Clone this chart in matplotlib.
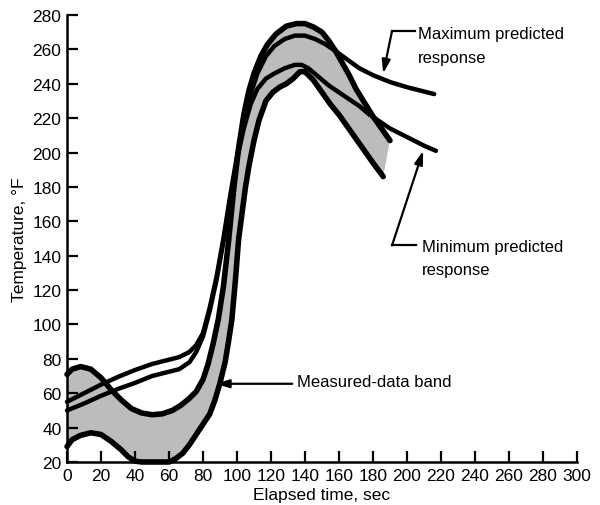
import matplotlib
matplotlib.use("Agg")
import matplotlib.pyplot as plt

plt.rcParams['font.family'] = ['Liberation Sans Narrow', 'Liberation Sans', 'DejaVu Sans']

# Measured-data band, upper boundary
band_up_x = [0, 3, 8, 14, 20, 26, 32, 38, 44, 50, 56, 62, 67, 72, 76, 80, 83, 86, 89,
             92, 95, 98, 101, 104, 107, 110, 114, 118, 123, 129, 135, 140, 145, 150,
             154, 158, 162, 166, 170, 175, 180, 185, 190]
band_up_y = [71, 74, 75.5, 74, 69, 62, 56, 51, 48.5, 47.5, 48, 50, 53, 57, 61, 68, 77, 89, 103,
             122, 148, 178, 203, 222, 236, 246, 256, 263, 269, 273.5, 275, 275, 273, 270,
             265, 259, 252, 245, 237, 229, 221, 214, 207]

# Measured-data band, lower boundary
band_lo_x = [0, 3, 8, 14, 20, 26, 32, 36, 40, 44, 52, 60, 64, 68, 72, 76, 80, 84, 87, 90,
             93, 95, 97, 99, 101, 103, 105, 107, 110, 113, 117, 121, 125, 129, 133, 137,
             140, 145, 150, 155, 160, 165, 170, 175, 180, 186]
band_lo_y = [29, 33, 35.5, 37, 36, 32, 27, 23, 20.5, 20, 20, 20, 22, 25, 30, 36, 42, 48, 56, 66,
             78, 90, 103, 125, 150, 165, 180, 192, 207, 219, 230, 235, 238, 240, 243, 247,
             247, 242, 235, 228, 222, 215, 208, 201, 194, 186]

# Maximum predicted response
max_x = [0, 10, 20, 30, 40, 50, 60, 66, 72, 76, 80, 84, 88, 92, 96, 100, 104, 108, 112,
         117, 122, 128, 134, 140, 146, 152, 158, 165, 172, 180, 190, 200, 208, 216]
max_y = [55, 60, 65, 69.5, 73.5, 77, 79.5, 81, 84, 88, 95, 110, 128, 150, 175, 198, 218, 234, 246,
         256, 262, 266, 268, 268, 266, 263, 259, 254, 249, 245, 241, 238, 236, 234]

# Minimum predicted response
min_x = [0, 10, 20, 30, 40, 50, 60, 66, 72, 76, 80, 84, 88, 92, 96, 100, 104, 108, 112,
         117, 122, 128, 134, 138, 142, 148, 154, 160, 166, 172, 178, 184, 190, 196, 202,
         210, 217]
min_y = [50, 54, 58.5, 62.5, 66, 70, 72.5, 74, 78, 84, 93, 108, 126, 148, 172, 196, 214, 228, 237,
         243, 246, 249, 251, 251, 249, 244, 239, 235, 231, 227, 222, 218, 214, 211, 208,
         204, 201]

x_ticks = list(range(0, 301, 20))
y_ticks = list(range(20, 281, 20))

fig = plt.figure(figsize=(6.0, 5.06), dpi=100)
ax = fig.add_axes([67 / 600, (506 - 463) / 506, 510 / 600, 447 / 506])

poly_x = band_up_x + band_lo_x[::-1]
poly_y = band_up_y + band_lo_y[::-1]
ax.fill(poly_x, poly_y, facecolor='#bcbcbc', edgecolor='none', linewidth=0, zorder=1)

for xs, ys, lw in [(band_up_x, band_up_y, 4.0), (band_lo_x, band_lo_y, 4.0),
                   (max_x, max_y, 3.2), (min_x, min_y, 3.2)]:
    ax.plot(xs, ys, color='black', lw=lw, solid_capstyle='round',
            solid_joinstyle='round', zorder=3, clip_on=False)

ax.set_xlim(0, 300)
ax.set_ylim(20, 280)
ax.set_xticks(x_ticks)
ax.set_yticks(y_ticks)
ax.tick_params(direction='in', length=8, width=1.6, labelsize=12.5, pad=4)
for s in ['top', 'right']:
    ax.spines[s].set_visible(False)
for s in ['left', 'bottom']:
    ax.spines[s].set_linewidth(1.8)

ax.set_xlabel('Elapsed time, sec', fontsize=12.5)
ax.set_ylabel('Temperature, °F', fontsize=12.5)
ax.xaxis.set_label_coords(0.5, -0.056)
ax.yaxis.set_label_coords(-0.078, 0.5)

arrow_kw = dict(arrowstyle='-|>,head_length=0.8,head_width=0.25', color='black', lw=1.6,
                shrinkA=0, shrinkB=0)

# Maximum predicted response label
ax.text(206.5, 269.5, 'Maximum predicted', fontsize=12, ha='left', va='center')
ax.text(206.5, 255.5, 'response', fontsize=12, ha='left', va='center')
ax.plot([204.5, 191.2], [270.7, 270.7], color='black', lw=1.6)
ax.annotate('', xy=(186, 246), xytext=(191.2, 270.7), arrowprops=arrow_kw)

# Minimum predicted response label
ax.text(208.8, 145.4, 'Minimum predicted', fontsize=12, ha='left', va='center')
ax.text(208.8, 132, 'response', fontsize=12, ha='left', va='center')
ax.plot([205.5, 191.2], [146, 146], color='black', lw=1.6)
ax.annotate('', xy=(209.5, 201), xytext=(191.2, 146), arrowprops=arrow_kw)

# Measured-data band label
ax.text(135.5, 67, 'Measured-data band', fontsize=12, ha='left', va='center')
ax.annotate('', xy=(87.5, 65.5), xytext=(132.5, 65.5), arrowprops=arrow_kw)

fig.savefig('out.png', dpi=100)
